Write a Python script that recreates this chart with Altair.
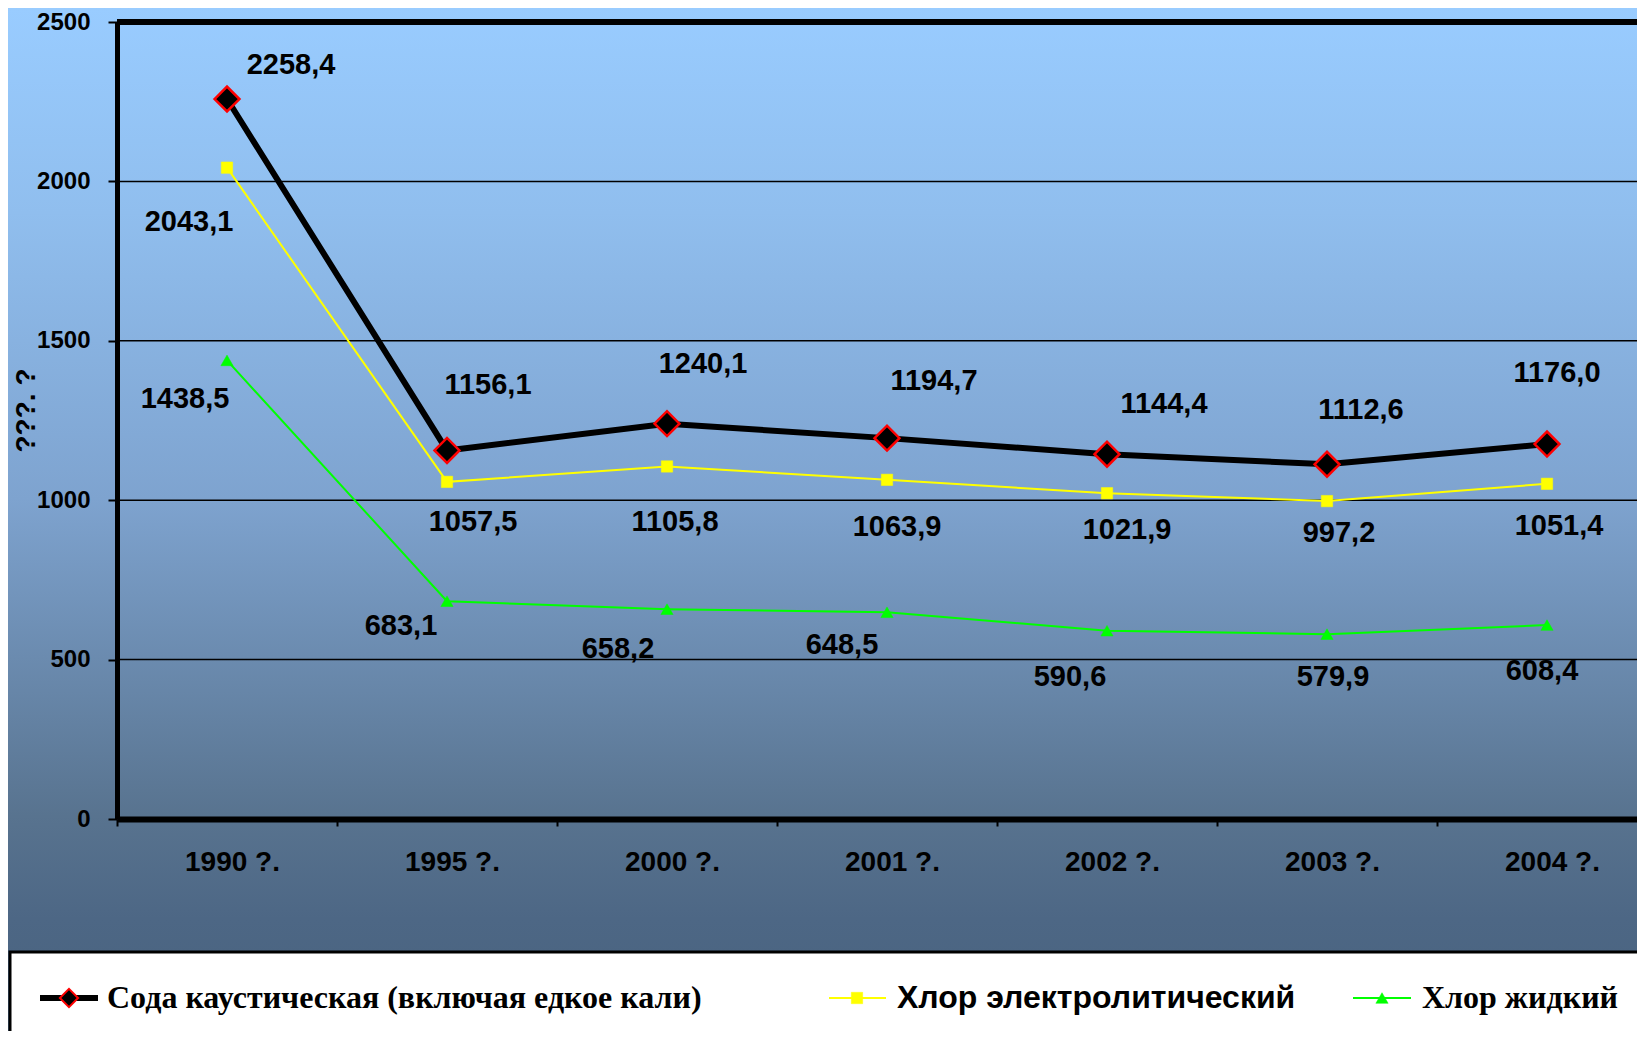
import altair as alt
import pandas as pd

# ---------------- data ----------------
years = ["1990 ?.", "1995 ?.", "2000 ?.", "2001 ?.", "2002 ?.", "2003 ?.", "2004 ?."]
soda = [2258.4, 1156.1, 1240.1, 1194.7, 1144.4, 1112.6, 1176.0]
chlor_el = [2043.1, 1057.5, 1105.8, 1063.9, 1021.9, 997.2, 1051.4]
chlor_liq = [1438.5, 683.1, 658.2, 648.5, 590.6, 579.9, 608.4]
series_names = [
    "Сода каустическая (включая едкое кали)",
    "Хлор электролитический",
    "Хлор жидкий",
]
y_ticks = [0, 500, 1000, 1500, 2000, 2500]
grid_values = [500, 1000, 1500, 2000, 2500]
y_title = "???. ?"

# ---------------- layout / style (not data) ----------------
W, H = 1520, 797
PAD_L, PAD_T = 109, 14
CANVAS_W, CANVAS_H = 1629, 1023
PAD_B = CANVAS_H - PAD_T - H
X_RANGE = 1540

label_dx = [
    [64, 41, 36, 47, 57, 34, 10],
    [-38, 26, 8, 10, 20, 12, 12],
    [-42, -46, -49, -45, -37, 6, -5],
]
label_dy = [
    [-34, -65, -60, -57, -50, -54, -71],
    [54, 40, 56, 47, 37, 32, 42],
    [39, 25, 40, 33, 46, 43, 46],
]
line_styles = [
    dict(color="#000000", strokeWidth=6),
    dict(color="#FFFF00", strokeWidth=2),
    dict(color="#00FF00", strokeWidth=2),
]
point_styles = [
    dict(shape="diamond", size=620, fill="#000000", stroke="#FF0000", strokeWidth=2.5),
    dict(shape="square", size=130, fill="#FFFF00", stroke="#FFFF00", strokeWidth=0.5),
    dict(shape="triangle-up", size=150, fill="#00FF00", stroke="#00FF00", strokeWidth=0.5),
]
legend_point_sizes = [330, 130, 150]
legend_line = [(-77, -19), (712, 769), (1236, 1294)]
legend_marker_x = [-48, 740, 1265]
legend_text_x = [-10, 780, 1305]
legend_fonts = [("Liberation Serif", 32), ("Liberation Sans", 32), ("Liberation Serif", 32)]
LEG_Y = 976

SANS = "Liberation Sans"

rows = []
for name, vals in zip(series_names, [soda, chlor_el, chlor_liq]):
    for yr, v in zip(years, vals):
        rows.append({"series": name, "year": yr, "value": v,
                     "label": f"{v:.1f}".replace(".", ",")})
df = pd.DataFrame(rows)
one = pd.DataFrame({"a": [1]})
grid_df = pd.DataFrame({"value": grid_values})

x_enc = alt.X(
    "year:N",
    sort=years,
    scale=alt.Scale(type="band", domain=years, range=[0, X_RANGE], paddingInner=0, paddingOuter=0),
    axis=alt.Axis(
        title=None, tickBand="extent", labelAngle=0,
        domainColor="black", domainWidth=6,
        tickColor="black", tickWidth=2, tickSize=7,
        labelFont=SANS, labelFontWeight="bold", labelFontSize=28, labelColor="black",
        labelPadding=22, labelOffset=5, grid=False, zindex=1,
    ),
)
y_enc = alt.Y(
    "value:Q",
    scale=alt.Scale(domain=[0, 2500], nice=False, zero=True),
    axis=alt.Axis(
        values=y_ticks, format="d", title=y_title,
        titleFont=SANS, titleFontSize=28, titleFontWeight="bold", titleColor="black",
        titleX=-91, titleY=388, titleAngle=270, titleAlign="center", titleBaseline="middle",
        domainColor="black", domainWidth=5,
        tickColor="black", tickWidth=2, tickSize=9,
        labelFont=SANS, labelFontWeight="bold", labelFontSize=24, labelColor="black",
        labelPadding=18, grid=False, zindex=1,
    ),
)

gradient = {
    "gradient": "linear", "x1": 0, "y1": 0, "x2": 0, "y2": 1,
    "stops": [
        {"offset": 0.0, "color": "#99CCFF"},
        {"offset": 0.2, "color": "#90BEEE"},
        {"offset": 0.48, "color": "#7EA3CF"},
        {"offset": 0.79, "color": "#58738F"},
        {"offset": 0.89, "color": "#4D6785"},
        {"offset": 1.0, "color": "#48627D"},
    ],
}

layers = []
# background gradient
layers.append(
    alt.Chart(one).mark_rect(fill=gradient, strokeWidth=0).encode(
        x=alt.value(-PAD_L), x2=alt.value(W), y=alt.value(-PAD_T), y2=alt.value(H + PAD_B)
    )
)
# grid lines (top one is the heavy border)
layers.append(
    alt.Chart(grid_df).mark_rule(color="black").encode(
        y=y_enc,
        strokeWidth=alt.condition("datum.value == 2500", alt.value(6), alt.value(1.5)),
    )
)
# lines (green, yellow, black on top)
for i in [2, 1, 0]:
    name = series_names[i]
    layers.append(
        alt.Chart(df).transform_filter(alt.datum.series == name)
        .mark_line(**line_styles[i]).encode(x=x_enc, y=y_enc)
    )
for i in [2, 1, 0]:
    name = series_names[i]
    layers.append(
        alt.Chart(df).transform_filter(alt.datum.series == name)
        .mark_point(filled=True, opacity=1, fillOpacity=1, **point_styles[i]).encode(x=x_enc, y=y_enc)
    )
# data labels
for i, name in enumerate(series_names):
    for j, yr in enumerate(years):
        layers.append(
            alt.Chart(df).transform_filter((alt.datum.series == name) & (alt.datum.year == yr))
            .mark_text(dx=label_dx[i][j], dy=label_dy[i][j], font=SANS, fontSize=29,
                       fontWeight="bold", color="black", align="center", baseline="middle")
            .encode(x=x_enc, y=y_enc, text="label:N")
        )
# legend box
layers.append(
    alt.Chart(one).mark_rect(fill="white", stroke="black", strokeWidth=3).encode(
        x=alt.value(-107), x2=alt.value(W + 20), y=alt.value(930), y2=alt.value(H + PAD_B + 10)
    )
)
for i, name in enumerate(series_names):
    ls = line_styles[i]
    layers.append(
        alt.Chart(one).mark_rule(color=ls["color"], strokeWidth=ls["strokeWidth"]).encode(
            x=alt.value(legend_line[i][0]), x2=alt.value(legend_line[i][1]), y=alt.value(LEG_Y)
        )
    )
    ps = dict(point_styles[i])
    ps["size"] = legend_point_sizes[i]
    if i == 0:
        ps["strokeWidth"] = 2
    layers.append(
        alt.Chart(one).mark_point(filled=True, opacity=1, fillOpacity=1, **ps).encode(
            x=alt.value(legend_marker_x[i]), y=alt.value(LEG_Y)
        )
    )
    f, fs = legend_fonts[i]
    layers.append(
        alt.Chart(one).mark_text(font=f, fontSize=fs, fontWeight="bold", color="black",
                                 align="left", baseline="middle").encode(
            x=alt.value(legend_text_x[i]), y=alt.value(LEG_Y), text=alt.value(name)
        )
    )

chart = (
    alt.layer(*layers)
    .properties(
        width=W, height=H,
        autosize=alt.AutoSizeParams(type="none"),
        padding={"left": PAD_L, "top": PAD_T, "right": CANVAS_W - PAD_L - W, "bottom": PAD_B},
        background="#6f8fb5",
    )
    .configure_view(stroke=None)
)

chart.save("out.html", embed_options={"renderer": "svg", "actions": False})
